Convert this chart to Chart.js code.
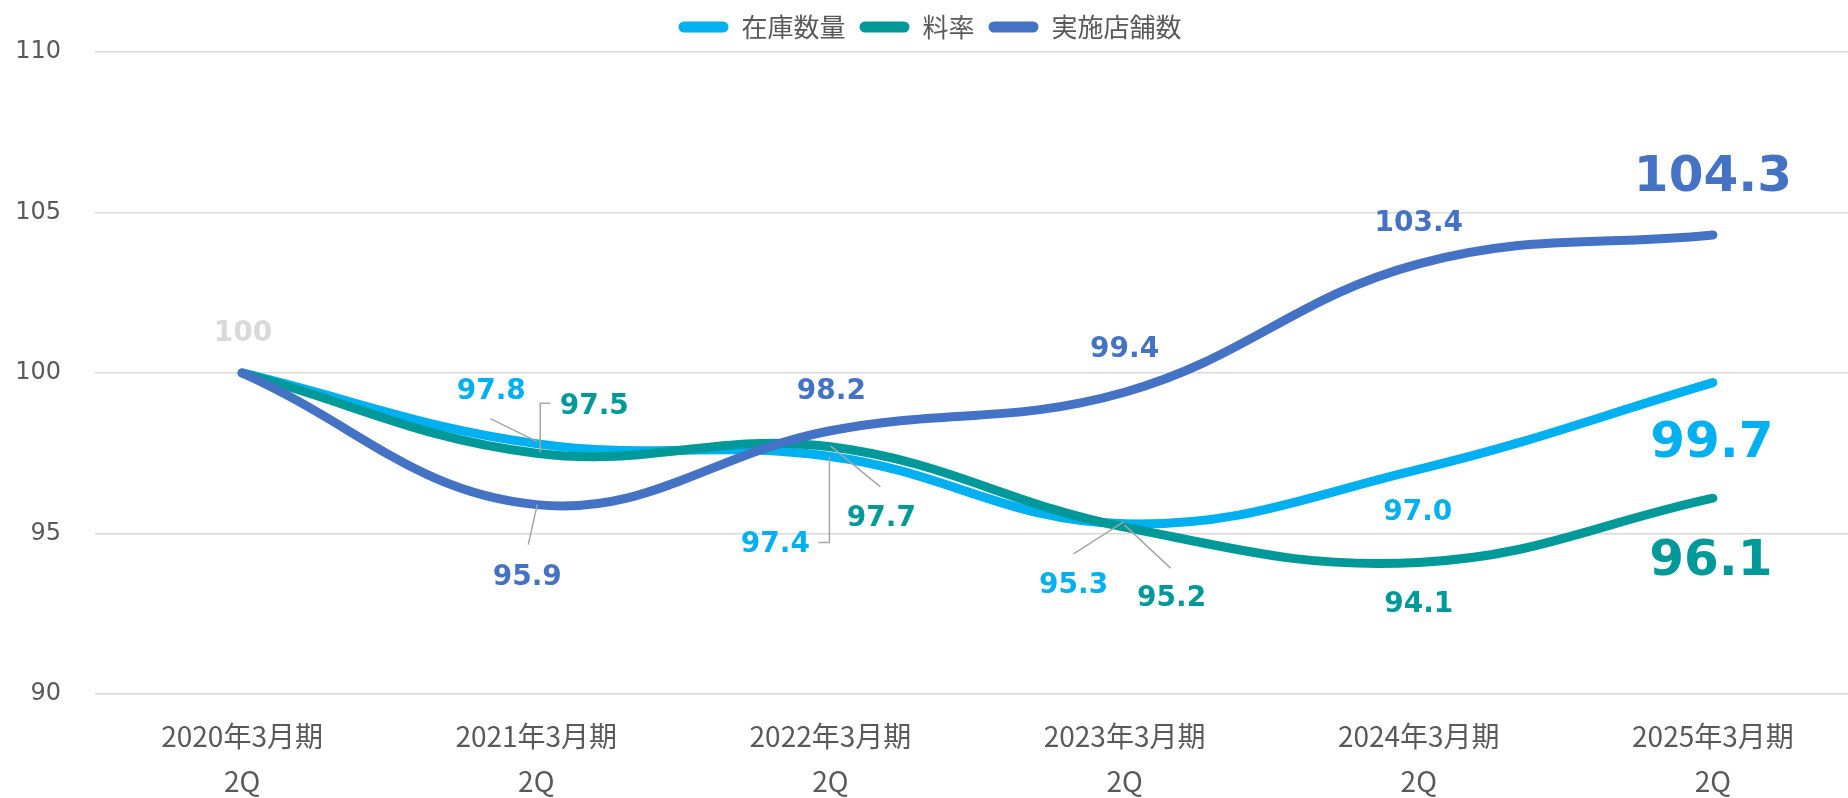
<!DOCTYPE html>
<html lang="ja">
<head>
    <meta charset="UTF-8">
    <title>在庫数量・料率・実施店舗数</title>
    <style>
        html, body {
            margin: 0;
            padding: 0;
            background: #fff;
            overflow: hidden;
        }

        /* slightly wider than the window: the plot area runs off the right edge like the original */
        .chart-container {
            position: relative;
            width: 1860px;
            height: 798px;
        }
    </style>
</head>
<body>
    <div class="chart-container">
        <canvas id="trendChart"></canvas>
    </div>

    <script src="https://cdn.jsdelivr.net/npm/chart.js@4"></script>
    <script>
        // chart values
        const categories = [
            ['2020年3月期', '2Q'],
            ['2021年3月期', '2Q'],
            ['2022年3月期', '2Q'],
            ['2023年3月期', '2Q'],
            ['2024年3月期', '2Q'],
            ['2025年3月期', '2Q']
        ];
        const seriesNames = ['在庫数量', '料率', '実施店舗数'];
        const stockQty = [100, 97.8, 97.4, 95.3, 97.0, 99.7];
        const feeRate = [100, 97.5, 97.7, 95.2, 94.1, 96.1];
        const storeCount = [100, 95.9, 98.2, 99.4, 103.4, 104.3];
        const yTicks = [90, 95, 100, 105, 110];

        const colors = ['#00B0F0', '#009999', '#4472C4'];

        // label placement relative to each point (px); leader = polyline relative to the point
        const labelPlacement = [
            [
                { dx: 1, dy: -39, color: '#D9D9D9' },
                { dx: -45, dy: -52, leader: [[-46, -25], [1, -2]] },
                { dx: -55, dy: 88, leader: [[-12, 86], [-1, 86], [-1, 0]] },
                { dx: -51, dy: 62, leader: [[-51, 30], [-1, -2]] },
                { dx: -1, dy: 43 },
                { dx: -1, dy: 61, big: true }
            ],
            [
                null,
                { dx: 58, dy: -47, leader: [[14, -50], [4, -50], [4, -1]] },
                { dx: 51, dy: 72, leader: [[50, 40], [0, -1]] },
                { dx: 47, dy: 72, leader: [[46, 41], [0, -2]] },
                { dx: 0, dy: 42 },
                { dx: -2, dy: 64, big: true }
            ],
            [
                null,
                { dx: -9, dy: 73, leader: [[-8, 40], [1, 0]] },
                { dx: 1, dy: -39 },
                { dx: 0, dy: -43 },
                { dx: 0, dy: -40 },
                { dx: 0, dy: -57, big: true }
            ]
        ];

        function formatValue(v) {
            return v === 100 ? '100' : v.toFixed(1);
        }

        // data labels with leader lines
        const dataLabels = {
            id: 'dataLabels',
            afterDatasetsDraw(chart) {
                const ctx = chart.ctx;
                ctx.save();
                chart.data.datasets.forEach((ds, di) => {
                    const meta = chart.getDatasetMeta(di);
                    meta.data.forEach((pt, i) => {
                        const lp = labelPlacement[di][i];
                        if (!lp) return;
                        if (lp.leader) {
                            ctx.beginPath();
                            ctx.strokeStyle = '#A6A6A6';
                            ctx.lineWidth = 1.5;
                            lp.leader.forEach(([lx, ly], k) => {
                                if (k === 0) ctx.moveTo(pt.x + lx, pt.y + ly);
                                else ctx.lineTo(pt.x + lx, pt.y + ly);
                            });
                            ctx.stroke();
                        }
                        ctx.fillStyle = lp.color || ds.borderColor;
                        ctx.font = 'bold ' + (lp.big ? 50 : 28) + 'px "DejaVu Sans", Verdana, sans-serif';
                        ctx.textAlign = 'center';
                        ctx.textBaseline = 'middle';
                        ctx.fillText(formatValue(ds.data[i]), pt.x + lp.dx, pt.y + lp.dy);
                    });
                });
                ctx.restore();
            }
        };

        // fixed legend band height
        const legendHeight = {
            id: 'legendHeight',
            beforeInit(chart) {
                const origFit = chart.legend.fit;
                chart.legend.fit = function () {
                    origFit.call(this);
                    this.height = 52;
                };
            }
        };

        const ctx = document.getElementById('trendChart').getContext('2d');
        new Chart(ctx, {
            type: 'line',
            data: {
                labels: categories,
                datasets: [stockQty, feeRate, storeCount].map((values, i) => ({
                    label: seriesNames[i],
                    data: values,
                    borderColor: colors[i],
                    backgroundColor: colors[i],
                    borderWidth: 9,
                    borderCapStyle: 'round',
                    pointRadius: 0,
                    tension: 0.4,
                    fill: false,
                    order: 3 - i // later series drawn on top
                }))
            },
            options: {
                responsive: true,
                maintainAspectRatio: false,
                animation: false,
                devicePixelRatio: 1,
                layout: { padding: 0 },
                plugins: {
                    tooltip: { enabled: false },
                    legend: {
                        position: 'top',
                        labels: {
                            boxWidth: 50,
                            boxHeight: 11,
                            useBorderRadius: true,
                            borderRadius: 5.5,
                            padding: 14,
                            color: '#595959',
                            font: { family: '"Noto Sans CJK JP", sans-serif', size: 26 },
                            generateLabels(chart) {
                                return chart.data.datasets.map((ds, i) => ({
                                    text: ds.label,
                                    fillStyle: ds.borderColor,
                                    strokeStyle: ds.borderColor,
                                    lineWidth: 0,
                                    borderRadius: 5.5,
                                    fontColor: '#595959',
                                    datasetIndex: i
                                }));
                            }
                        }
                    }
                },
                scales: {
                    x: {
                        offset: true,
                        grid: { display: false, drawTicks: false },
                        border: { display: false },
                        ticks: {
                            padding: 20,
                            color: '#595959',
                            maxRotation: 0,
                            font: { family: '"Noto Sans CJK JP", sans-serif', size: 28, lineHeight: '45px' }
                        },
                        afterFit(scale) { scale.height = 104; }
                    },
                    y: {
                        min: yTicks[0],
                        max: yTicks[yTicks.length - 1],
                        grid: { color: '#D9D9D9', lineWidth: 1.5, drawTicks: false },
                        border: { display: false },
                        ticks: {
                            stepSize: yTicks[1] - yTicks[0],
                            padding: 34,
                            color: '#595959',
                            font: { family: '"DejaVu Sans", Verdana, sans-serif', size: 24 }
                        },
                        afterFit(scale) { scale.width = 95; }
                    }
                }
            },
            plugins: [legendHeight, dataLabels]
        });
    </script>
</body>
</html>
